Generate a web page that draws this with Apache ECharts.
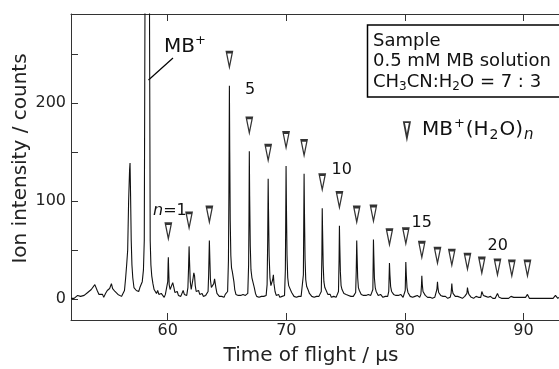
<!DOCTYPE html>
<html>
<head>
<meta charset="utf-8">
<script src="https://cdn.jsdelivr.net/npm/echarts@6/dist/echarts.min.js"></script>
<style>
  html, body { margin: 0; padding: 0; background: #fff; }
  #chart { width: 559px; height: 369px; }
</style>
</head>
<body>
<div id="chart"></div>
<script>
// TOF spectrum, [time (us), counts]
const trace = [
  [51.84,1],[52.0,3],[52.1,1],[52.25,2],[52.4,4],[52.5,2],[52.65,3],[52.8,1],[52.95,4],[53.1,3],
  [53.25,7],[53.4,6],[53.55,10],[53.7,12],[53.85,15],[53.95,14],[54.05,9],[54.2,5],[54.35,3],[54.5,5],
  [54.6,2],[54.75,6],[54.9,9],[55.0,7],[55.1,11],[55.25,16],[55.35,11],[55.45,12],[55.55,8],[55.7,9],
  [55.8,5],[55.95,7],[56.1,3],[56.25,4],[56.35,9],[56.45,22],[56.54,36],[56.62,50],[56.7,100],[56.78,132],
  [56.82,139],[56.86,110],[56.92,60],[56.98,35],[57.05,22],[57.15,12],[57.25,14],[57.35,9],[57.45,11],[57.55,8],
  [57.65,12],[57.75,11],[57.85,18],[57.95,30],[58.02,60],[58.08,300],[58.1,2000],[58.27,3000],[58.44,2000],[58.46,300],
  [58.52,60],[58.58,35],[58.65,24],[58.75,16],[58.85,10],[58.95,9],[59.05,6],[59.15,9],[59.25,5],[59.35,3],
  [59.45,6],[59.55,4],[59.7,2],[59.8,5],[59.9,4],
  [59.95,6],[60.0,18],[60.03,36],[60.05,43],[60.08,30],[60.12,15],[60.2,10],[60.28,8],[60.35,12],[60.42,17],
  [60.47,19],[60.52,12],[60.6,7],[60.7,5],[60.8,8],[60.9,4],[61.0,6],[61.1,3],[61.2,5],[61.3,9],
  [61.4,5],[61.5,3],[61.6,4],[61.7,12],
  [61.75,30],[61.8,54],[61.84,38],[61.9,18],[61.98,10],[62.05,12],[62.12,20],[62.2,27],[62.26,24],[62.32,14],
  [62.4,8],[62.5,7],[62.6,9],[62.7,5],[62.8,4],[62.9,6],[63.0,3],[63.1,5],[63.2,4],[63.3,3],[63.4,8],
  [63.45,25],[63.51,60],[63.55,42],[63.6,20],[63.68,12],[63.78,10],[63.88,16],[63.95,21],[64.0,22],[64.06,12],
  [64.15,6],[64.25,4],[64.35,3],[64.45,5],[64.55,3],[64.65,4],[64.75,2],[64.85,5],[64.95,3],[65.05,8],[65.12,40],
  [65.16,110],[65.2,218],[65.23,150],[65.27,80],[65.32,45],[65.38,32],[65.45,28],[65.52,26],[65.58,18],[65.65,10],
  [65.75,5],[65.85,3],[65.95,4],[66.05,2],[66.15,4],[66.25,3],[66.35,5],[66.45,3],[66.55,4],[66.65,3],[66.75,6],[66.82,35],
  [66.85,80],[66.88,151],[66.91,105],[66.96,55],[67.02,30],[67.1,22],[67.18,23],[67.24,20],[67.3,12],[67.4,6],
  [67.5,3],[67.6,4],[67.7,2],[67.8,4],[67.9,3],[68.0,5],[68.1,3],[68.2,2],[68.3,4],[68.38,15],[68.43,60],
  [68.47,123],[68.5,90],[68.55,45],[68.62,22],[68.7,14],[68.78,12],[68.85,20],[68.91,25],[68.96,16],[69.05,8],
  [69.15,4],[69.25,3],[69.35,5],[69.45,2],[69.55,4],[69.65,3],[69.75,5],[69.85,4],[69.92,30],
  [69.95,80],[69.98,136],[70.01,95],[70.06,45],[70.12,22],[70.2,14],[70.3,16],[70.36,12],[70.45,7],[70.55,5],
  [70.65,3],[70.75,4],[70.85,2],[70.95,4],[71.05,3],[71.15,5],[71.25,3],[71.35,4],[71.44,25],
  [71.47,75],[71.5,128],[71.53,90],[71.58,42],[71.64,20],[71.72,13],[71.8,12],[71.86,9],[71.95,6],[72.05,4],
  [72.15,3],[72.25,5],[72.35,2],[72.45,4],[72.55,3],[72.65,5],[72.75,3],[72.85,4],[72.95,8],[73.0,45],
  [73.03,93],[73.06,70],[73.11,35],[73.17,18],[73.25,12],[73.32,10],[73.4,8],[73.5,5],[73.6,3],[73.7,5],
  [73.8,2],[73.9,4],[74.0,3],[74.1,4],[74.2,2],[74.3,4],[74.4,8],[74.45,40],
  [74.48,75],[74.51,55],[74.56,28],[74.62,14],[74.7,10],[74.78,8],[74.86,6],[74.95,4],[75.05,5],[75.15,3],
  [75.25,4],[75.35,2],[75.45,3],[75.55,5],[75.65,3],[75.75,4],[75.85,7],[75.9,30],
  [75.94,60],[75.97,45],[76.02,22],[76.08,12],[76.16,9],[76.24,8],[76.32,5],[76.42,3],[76.52,4],[76.62,2],
  [76.72,4],[76.82,3],[76.92,5],[77.02,3],[77.12,4],[77.22,3],[77.3,10],
  [77.35,61],[77.38,45],[77.43,22],[77.5,12],[77.58,8],[77.66,7],[77.75,4],[77.85,3],[77.95,5],[78.05,3],
  [78.15,2],[78.25,4],[78.35,3],[78.45,5],[78.55,3],[78.64,8],
  [78.7,37],[78.74,25],[78.8,13],[78.88,8],[78.96,6],[79.05,5],[79.15,3],[79.25,4],[79.35,2],[79.45,4],
  [79.55,3],[79.65,5],[79.75,3],[79.85,2],[79.95,4],[80.03,9],
  [80.08,38],[80.12,25],[80.18,12],[80.26,7],[80.35,5],[80.45,3],[80.55,4],[80.65,2],[80.75,4],[80.85,3],
  [80.95,2],[81.05,4],[81.15,3],[81.25,2],[81.35,5],[81.4,14],
  [81.43,24],[81.47,15],[81.53,8],[81.62,6],[81.72,4],[81.82,3],[81.92,2],[82.02,4],[82.12,2],[82.22,3],
  [82.32,1],[82.42,3],[82.52,2],[82.62,4],[82.7,10],
  [82.75,18],[82.79,12],[82.85,7],[82.93,5],[83.02,4],[83.12,2],[83.22,3],[83.32,1],[83.42,3],[83.52,2],
  [83.62,1],[83.72,3],[83.82,2],[83.9,6],
  [83.96,16],[84.0,10],[84.06,6],[84.15,4],[84.25,3],[84.35,2],[84.45,3],[84.55,1],[84.65,2],[84.75,3],
  [84.85,1],[84.95,2],[85.05,3],[85.15,2],[85.23,6],
  [85.28,12],[85.33,8],[85.4,5],[85.5,3],[85.6,2],[85.7,3],[85.8,1],[85.9,2],[86.0,3],[86.1,1],
  [86.2,2],[86.3,3],[86.4,2],[86.45,5],
  [86.49,8],[86.54,6],[86.62,4],[86.72,2],[86.82,3],[86.92,1],[87.02,2],[87.12,1],[87.22,3],[87.32,2],
  [87.42,1],[87.52,2],[87.62,1],[87.72,3],
  [87.81,6],[87.86,4],[87.95,2],[88.05,3],[88.15,1],[88.25,2],[88.35,1],[88.45,2],[88.55,1],[88.65,2],
  [88.75,1],[88.85,2],[88.95,3],
  [89.02,5],[89.08,3],[89.18,2],[89.28,1],[89.38,2],[89.48,1],[89.58,2],[89.68,1],[89.78,2],[89.88,1],
  [89.98,2],[90.08,1],[90.18,2],[90.28,3],
  [90.34,5],[90.4,3],[90.5,1],[90.6,2],[90.7,1],[90.8,2],[90.9,1],[91.0,2],[91.1,1],[91.2,2],
  [91.3,1],[91.4,2],[91.5,1],[91.6,2],[91.7,1],[91.8,2],[91.9,1],[92.0,2],[92.1,1],[92.2,2],
  [92.3,1],[92.4,2],[92.5,1],[92.6,2],[92.7,4],[92.8,2],[92.9,1],[93.0,2]
];

// MB+(H2O)n cluster peaks (n = 1..22)
const clusterN = [1,2,3,4,5,6,7,8,9,10,11,12,13,14,15,16,17,18,19,20,21,22];
const peakTime = [60.05,61.8,63.51,65.2,66.88,68.47,69.98,71.5,73.03,74.48,75.94,
                  77.35,78.7,80.08,81.43,82.75,83.96,85.28,86.49,87.81,89.02,90.34];
const peakCounts = [43,54,60,218,151,123,136,128,93,75,60,61,37,38,24,18,16,12,8,6,5,5];

const xTickValues = [60, 70, 80, 90];
const yTickValues = [0, 50, 100, 150, 200, 250];
const yLabelValues = [0, 100, 200];

const FONT = 'DejaVu Sans';
const INK = '#111';
const triangle = 'path://M0,0L10,0L5,26Z';

const chart = echarts.init(document.getElementById('chart'), null, { renderer: 'canvas' });

const axisCommon = {
  type: 'value',
  min: 51.84,
  max: 93.0,
  splitLine: { show: false },
  axisLine: { show: true, onZero: false, lineStyle: { color: '#333', width: 1 } },
  axisTick: { show: true, inside: true, length: 7, customValues: xTickValues, lineStyle: { color: '#333' } }
};

chart.setOption({
  animation: false,
  backgroundColor: '#fff',
  textStyle: { fontFamily: FONT },
  grid: { left: 71, right: 0, top: 14, bottom: 49, containLabel: false, outerBoundsMode: 'none' },
  xAxis: [
    Object.assign({}, axisCommon, {
      position: 'bottom',
      axisLabel: { customValues: xTickValues, fontSize: 16, color: '#222', margin: 3, fontFamily: FONT },
      name: 'Time of flight / \u03bcs',
      nameLocation: 'middle',
      nameGap: 26,
      nameTextStyle: { fontSize: 20, color: '#222', fontFamily: FONT, padding: [0, 8, 0, 0] }
    }),
    Object.assign({}, axisCommon, {
      position: 'top',
      axisLabel: { show: false }
    })
  ],
  yAxis: {
    type: 'value',
    min: -21.1,
    max: 291.1,
    splitLine: { show: false },
    axisLine: { show: true, onZero: false, lineStyle: { color: '#333', width: 1 } },
    axisTick: { show: true, inside: true, length: 7, customValues: yTickValues, lineStyle: { color: '#333' } },
    axisLabel: { customValues: yLabelValues, fontSize: 16, color: '#222', margin: 5, fontFamily: FONT }
  },
  legend: {
    left: 398,
    top: 112,
    selectedMode: false,
    itemWidth: 6,
    itemHeight: 16,
    icon: triangle,
    itemStyle: { color: '#fff', borderColor: '#000', borderWidth: 1.8 },
    data: ['cluster'],
    formatter: () => '{g|}{m|MB}{sup|+}{m|(H}{sub|2}{m|O)}{subi|n}',
    textStyle: {
      fontFamily: FONT, fontSize: 20, color: '#111',
      rich: {
        g: { width: 7 },
        m: { fontSize: 20, fontFamily: FONT, color: '#111', verticalAlign: 'middle' },
        sup: { fontSize: 13, fontFamily: FONT, color: '#111', verticalAlign: 'middle', padding: [0, 1, 13, 1] },
        sub: { fontSize: 14, fontFamily: FONT, color: '#111', verticalAlign: 'middle', padding: [11, 1, 0, 1] },
        subi: { fontSize: 15, fontFamily: FONT, fontStyle: 'italic', color: '#111', verticalAlign: 'middle', padding: [11, 0, 0, 1] }
      }
    }
  },
  series: [
    {
      name: 'spectrum',
      type: 'line',
      data: trace,
      showSymbol: false,
      clip: true,
      lineStyle: { color: INK, width: 1.1 },
      silent: true
    },
    {
      name: 'cluster',
      type: 'scatter',
      data: peakTime.map((t, i) => [t, peakCounts[i], clusterN[i]]),
      symbol: triangle,
      symbolSize: [6, 15],
      symbolOffset: [0, -26],
      itemStyle: { color: '#fff', borderColor: '#000', borderWidth: 1.8 },
      z: 5
    }
  ],
  graphic: [
    { type: 'rect', shape: { x: 367.5, y: 25, width: 200, height: 72 },
      style: { fill: 'none', stroke: '#000', lineWidth: 1.5 } },
    { type: 'text', x: 373, y: 41, style: { text: 'Sample', font: '18px "DejaVu Sans"', fill: '#111', verticalAlign: 'middle' } },
    { type: 'text', x: 373, y: 61, style: { text: '0.5 mM MB solution', font: '18px "DejaVu Sans"', fill: '#111', verticalAlign: 'middle' } },
    { type: 'text', x: 373, y: 82.5, style: {
        text: '{m|CH}{s|3}{m|CN:H}{s|2}{m|O = 7 : 3}', verticalAlign: 'middle', fill: '#111',
        rich: {
          m: { fontSize: 18, fontFamily: FONT, verticalAlign: 'middle' },
          s: { fontSize: 12, fontFamily: FONT, verticalAlign: 'middle', padding: [9, 0, 0, 0] }
        } } },
    { type: 'text', x: 164, y: 46.5, style: {
        text: '{m|MB}{s|+}', verticalAlign: 'middle', fill: '#111',
        rich: {
          m: { fontSize: 20, fontFamily: FONT, verticalAlign: 'middle' },
          s: { fontSize: 13, fontFamily: FONT, verticalAlign: 'middle', padding: [0, 0, 12, 0] }
        } } },
    { type: 'line', shape: { x1: 173, y1: 58, x2: 148.5, y2: 80 }, style: { stroke: '#000', lineWidth: 1.2 } },
    { type: 'text', x: 153, y: 211, style: {
        text: '{i|n}{m|=1}', verticalAlign: 'middle', fill: '#111',
        rich: {
          i: { fontSize: 16, fontFamily: FONT, fontStyle: 'italic' },
          m: { fontSize: 16, fontFamily: FONT }
        } } },
    { type: 'text', x: 245, y: 90, style: { text: '5', font: '16px "DejaVu Sans"', fill: '#111', verticalAlign: 'middle' } },
    { type: 'text', x: 331.5, y: 169.5, style: { text: '10', font: '16px "DejaVu Sans"', fill: '#111', verticalAlign: 'middle' } },
    { type: 'text', x: 411.5, y: 223, style: { text: '15', font: '16px "DejaVu Sans"', fill: '#111', verticalAlign: 'middle' } },
    { type: 'text', x: 487.5, y: 245.5, style: { text: '20', font: '16px "DejaVu Sans"', fill: '#111', verticalAlign: 'middle' } },
    { type: 'text', x: 21, y: 158.5, rotation: Math.PI / 2, style: {
        text: 'Ion intensity / counts', font: '20px "DejaVu Sans"', fill: '#222',
        align: 'center', verticalAlign: 'middle' } }
  ]
});
</script>
</body>
</html>
